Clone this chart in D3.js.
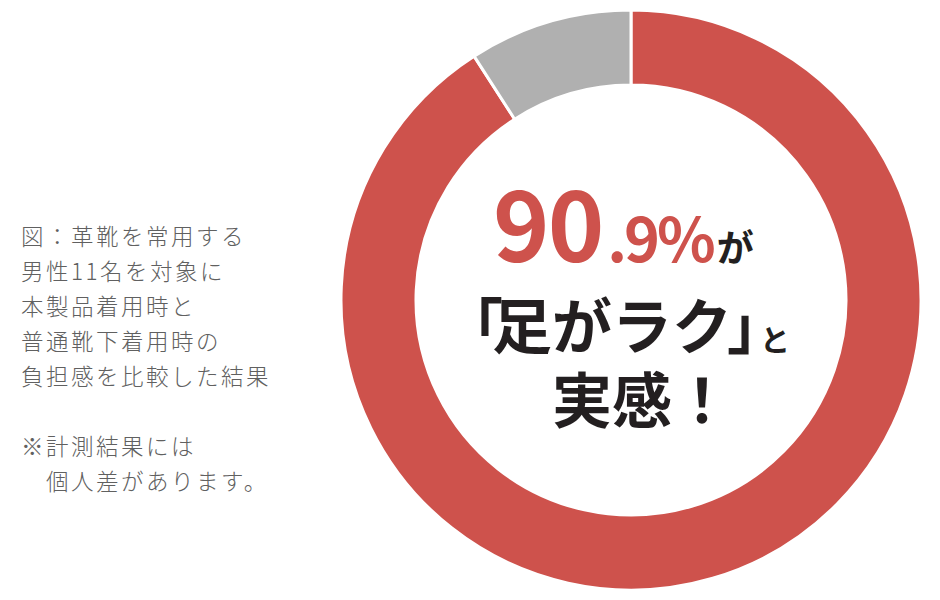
<!DOCTYPE html>
<html><head><meta charset="utf-8">
<script src="https://cdn.jsdelivr.net/npm/d3@7"></script>
<style>
html,body{margin:0;padding:0;background:#fff;}
svg{display:block;}
text{font-family:"Noto Sans CJK JP","Noto Sans",sans-serif;}
</style></head>
<body>
<svg id="chart" width="940" height="600"></svg>
<script>
const categories = ["足がラクと実感", "その他"];
const values = [90.9, 9.1];
const colors = ["#ce524c", "#b0b0b0"];
const noteLines = ["図：革靴を常用する","男性11名を対象に","本製品着用時と","普通靴下着用時の","負担感を比較した結果","","※計測結果には","　個人差があります。"];

const svg = d3.select("#chart");
const cx = 631, cy = 300, rOuter = 290, rInner = 215;

const pie = d3.pie().sort(null).value(d => d.v);
const arc = d3.arc().innerRadius(rInner).outerRadius(rOuter);
const data = categories.map((c,i)=>({c, v: values[i], col: colors[i]}));

svg.append("g").attr("transform",`translate(${cx},${cy})`)
  .selectAll("path").data(pie(data)).join("path")
  .attr("d", arc)
  .attr("fill", d => d.data.col)
  .attr("stroke", "#fff").attr("stroke-width", 3);

// note text
svg.append("g").selectAll("text").data(noteLines).join("text")
  .attr("x", 21).attr("y", (d,i)=> 245 + i*35)
  .attr("font-size", 22.5).attr("font-weight", 300).attr("letter-spacing", 2.5)
  .attr("fill", "#606060").text(d=>d);

// center text
const pct = values[0].toFixed(1);
const [ip, fp] = pct.split(".");
const t1 = svg.append("text").attr("x", 493).attr("y", 262).attr("fill", colors[0]);
t1.append("tspan").attr("font-size", 96).attr("font-weight", 700).attr("letter-spacing", -2).text(ip);
t1.append("tspan").attr("font-size", 61).attr("font-weight", 700).attr("dx", 5).attr("letter-spacing", -3).text("." + fp + "%");
t1.append("tspan").attr("font-size", 37).attr("font-weight", 700).attr("fill", "#231f20").attr("dx", 4).text("が");

const t2 = svg.append("text").attr("y", 349).attr("fill", "#231f20").attr("font-weight", 700);
t2.append("tspan").attr("x", 443).attr("font-size", 60).text("「");
t2.append("tspan").attr("x", 492).attr("font-size", 60).text("足がラク");
t2.append("tspan").attr("x", 727).attr("font-size", 60).text("」");
t2.append("tspan").attr("x", 760).attr("y", 351).attr("font-size", 30).text("と");

svg.append("text").attr("x", 552).attr("y", 423).attr("fill", "#231f20")
  .attr("font-weight", 700).attr("font-size", 60).text("実感！");
</script>
</body></html>
